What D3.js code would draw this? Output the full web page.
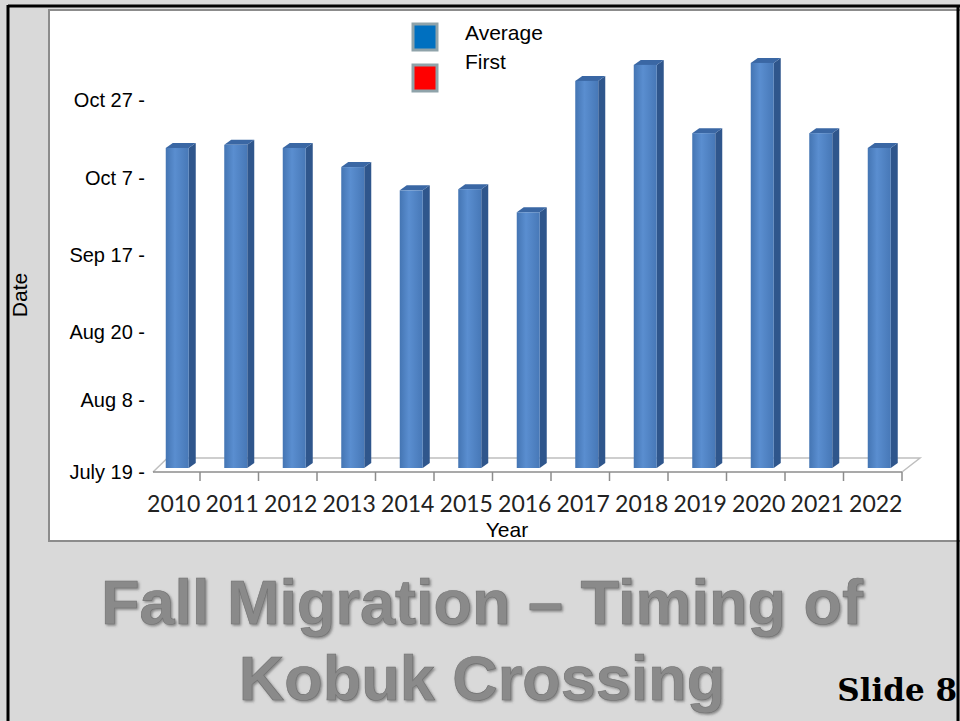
<!DOCTYPE html>
<html>
<head>
<meta charset="utf-8">
<script src="https://cdn.jsdelivr.net/npm/d3@7/dist/d3.min.js"></script>
<style>
  body { margin: 0; background: #d9d9d9; }
  svg { display: block; }
</style>
</head>
<body>
<div id="chart"></div>
<script>
// data (days are day-of-year, 200 = July 19)
var years = [2010, 2011, 2012, 2013, 2014, 2015, 2016, 2017, 2018, 2019, 2020, 2021, 2022];
var avgDay = [287.7, 288.5, 287.7, 282.8, 276.8, 277.1, 271.1, 304.9, 309, 291.5, 309.5, 291.5, 287.7];
var tickDays = [200, 220, 232, 260, 280, 300];
var tickLabels = ["July 19", "Aug 8", "Aug 20", "Sep 17", "Oct 7", "Oct 27"];
var legendNames = ["Average", "First"];
var legendColors = ["#0070c0", "#ff0000"];

var W = 960, H = 721;

var svg = d3.select("#chart")
  .append("svg")
  .attr("width", W)
  .attr("height", H);

var defs = svg.append("defs");

var grad = defs.append("linearGradient")
  .attr("id", "barFront")
  .attr("x1", "0%").attr("x2", "100%")
  .attr("y1", "0%").attr("y2", "0%");
grad.append("stop").attr("offset", "0%").attr("stop-color", "#4475b3");
grad.append("stop").attr("offset", "40%").attr("stop-color", "#5a8ed0");
grad.append("stop").attr("offset", "100%").attr("stop-color", "#4778b7");

var shadow = defs.append("filter").attr("id", "titleShadow")
  .attr("x", "-5%").attr("y", "-10%").attr("width", "110%").attr("height", "130%");
shadow.append("feDropShadow")
  .attr("dx", 1.5).attr("dy", 1.5).attr("stdDeviation", 1)
  .attr("flood-color", "#444").attr("flood-opacity", 0.55);

// slide background + frame
svg.append("rect")
  .attr("width", W).attr("height", H)
  .attr("fill", "#d9d9d9");

// white chart panel
svg.append("rect")
  .attr("x", 49).attr("y", 10)
  .attr("width", 915).attr("height", 531)
  .attr("fill", "#ffffff")
  .attr("stroke", "#8c8c8c")
  .attr("stroke-width", 2);

svg.append("line")
  .attr("x1", 8).attr("x2", W).attr("y1", 6).attr("y2", 6)
  .attr("stroke", "#000").attr("stroke-width", 3);
svg.append("line")
  .attr("x1", 8).attr("x2", 8).attr("y1", 5).attr("y2", H)
  .attr("stroke", "#000").attr("stroke-width", 3);
svg.append("line")
  .attr("x1", 958).attr("x2", 958).attr("y1", 5).attr("y2", H)
  .attr("stroke", "#000").attr("stroke-width", 3);

// scales
var x = d3.scaleBand()
  .domain(years)
  .range([141.5, 902])
  .padding(0);

// the axis labels sit evenly, not by calendar, so the scale is piecewise
var y = d3.scaleLinear()
  .domain(tickDays)
  .range([472, 400, 332, 255, 178, 100]);

var baseY = y(tickDays[0]);
var depth = 14;

// floor of the 3d plot
var r = x.range();
svg.append("path")
  .attr("d", "M" + (r[0] + 11.5) + "," + baseY +
             "L" + (r[0] + 26) + "," + (baseY - depth) +
             "L" + (r[1] + 18) + "," + (baseY - depth) +
             "L" + r[1] + "," + baseY)
  .attr("fill", "none")
  .attr("stroke", "#bfbfbf")
  .attr("stroke-width", 1.5);
svg.append("line")
  .attr("x1", r[0] + 11.5).attr("x2", r[1])
  .attr("y1", baseY).attr("y2", baseY)
  .attr("stroke", "#8c8c8c")
  .attr("stroke-width", 1.5);

// ticks between the categories
svg.append("g").selectAll("line")
  .data(years)
  .join("line")
  .attr("x1", d => x(d) + x.bandwidth())
  .attr("x2", d => x(d) + x.bandwidth())
  .attr("y1", baseY)
  .attr("y2", baseY + 9)
  .attr("stroke", "#8c8c8c")
  .attr("stroke-width", 1.5);

// bars (front, side, top)
var bw = 23, bd = 7, bt = 5;
var bars = svg.append("g").selectAll("g")
  .data(years)
  .join("g");

bars.append("path")
  .attr("d", function(d, i) {
    var x0 = x(d) + x.bandwidth() / 2 - 5 + bw, yt = y(avgDay[i]), yb = baseY - 4;
    return "M" + x0 + "," + yt + "L" + (x0 + bd) + "," + (yt - bt) +
           "L" + (x0 + bd) + "," + (yb - bt) + "L" + x0 + "," + yb + "Z";
  })
  .attr("fill", "#2f568c");

bars.append("path")
  .attr("d", function(d, i) {
    var x0 = x(d) + x.bandwidth() / 2 - 5, yt = y(avgDay[i]);
    return "M" + x0 + "," + yt + "L" + (x0 + bd) + "," + (yt - bt) +
           "L" + (x0 + bw + bd) + "," + (yt - bt) + "L" + (x0 + bw) + "," + yt + "Z";
  })
  .attr("fill", "#3a67a4");

bars.append("rect")
  .attr("x", d => x(d) + x.bandwidth() / 2 - 5)
  .attr("y", (d, i) => y(avgDay[i]))
  .attr("width", bw)
  .attr("height", (d, i) => baseY - 4 - y(avgDay[i]))
  .attr("fill", "url(#barFront)");

// y labels, the dash is part of the label
svg.append("g").selectAll("text")
  .data(tickDays)
  .join("text")
  .attr("x", 145)
  .attr("y", d => y(d))
  .attr("dy", "0.35em")
  .attr("text-anchor", "end")
  .style("font-family", "'Liberation Sans', Arial, sans-serif")
  .style("font-size", "20px")
  .text((d, i) => tickLabels[i] + " -");

// year labels
svg.append("g").selectAll("text")
  .data(years)
  .join("text")
  .attr("x", d => x(d) + x.bandwidth() / 2 + 3)
  .attr("y", 512)
  .attr("text-anchor", "middle")
  .style("font-family", "Lato, sans-serif")
  .style("font-size", "23px")
  .style("fill", "#222")
  .text(d => d);

svg.append("text")
  .attr("x", 507).attr("y", 537)
  .attr("text-anchor", "middle")
  .style("font-family", "'Liberation Sans', Arial, sans-serif")
  .style("font-size", "21px")
  .text("Year");

svg.append("text")
  .attr("transform", "translate(27,295) rotate(-90)")
  .attr("text-anchor", "middle")
  .style("font-family", "'Liberation Sans', Arial, sans-serif")
  .style("font-size", "21px")
  .text("Date");

// legend
var legend = svg.append("g").selectAll("g")
  .data(legendNames)
  .join("g")
  .attr("transform", (d, i) => "translate(413," + (24 + i * 41) + ")");
legend.append("rect")
  .attr("width", 24).attr("height", 26)
  .attr("fill", (d, i) => legendColors[i])
  .attr("stroke", "#8fa3aa")
  .attr("stroke-width", 3);
legend.append("text")
  .attr("x", 52)
  .attr("y", (d, i) => i == 0 ? 16 : 4)
  .style("font-family", "'Liberation Sans', Arial, sans-serif")
  .style("font-size", "21px")
  .text(d => d);

// slide title
var title = ["Fall Migration \u2013 Timing of", "Kobuk Crossing"];
svg.append("g").selectAll("text")
  .data(title)
  .join("text")
  .attr("x", 482)
  .attr("y", (d, i) => 624 + i * 76)
  .attr("text-anchor", "middle")
  .attr("filter", "url(#titleShadow)")
  .style("font-family", "'Liberation Sans', Arial, sans-serif")
  .style("font-weight", "bold")
  .style("font-size", "63px")
  .style("fill", "#8a8a8a")
  .style("stroke", "#707070")
  .style("stroke-width", 0.6)
  .text(d => d);

svg.append("text")
  .attr("x", 957).attr("y", 701)
  .attr("text-anchor", "end")
  .style("font-family", "'DejaVu Serif', serif")
  .style("font-weight", "bold")
  .style("font-size", "31px")
  .text("Slide 8");
</script>
</body>
</html>
